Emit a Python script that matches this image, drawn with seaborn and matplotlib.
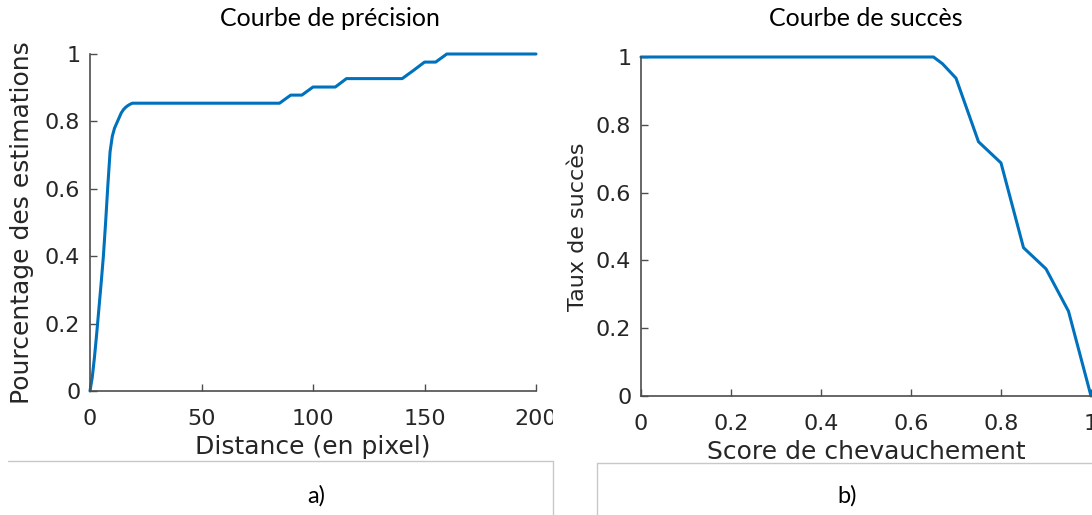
import matplotlib
matplotlib.use("Agg")
import matplotlib.pyplot as plt
from matplotlib.lines import Line2D
from matplotlib.transforms import Bbox, TransformedBbox
import seaborn as sns
import pandas as pd

# Precision curve: fraction of estimates within a given pixel distance
dist_px = [0, 1, 2, 3, 4, 5, 6, 7, 8, 9, 10, 11, 12, 13, 14, 15, 16, 17, 18, 19, 20,
           85, 90, 95, 100, 110, 115, 140, 145, 150, 155, 160, 200]
precision = [0, 0.04, 0.10, 0.17, 0.245, 0.32, 0.40, 0.50, 0.61, 0.71, 0.756, 0.78,
             0.795, 0.81, 0.825, 0.835, 0.842, 0.847, 0.851, 0.854, 0.854,
             0.854, 0.878, 0.878, 0.902, 0.902, 0.927, 0.927, 0.951, 0.976, 0.976,
             1.0, 1.0]

# Success curve: fraction of frames above a given overlap score
overlap = [0, 0.65, 0.67, 0.70, 0.75, 0.80, 0.85, 0.90, 0.95, 1.0]
success = [1.0, 1.0, 0.98, 0.9375, 0.75, 0.6875, 0.4375, 0.375, 0.25, 0.0]

x_ticks_a = [0, 50, 100, 150, 200]
x_ticks_b = [0, 0.2, 0.4, 0.6, 0.8, 1]
y_ticks = [0, 0.2, 0.4, 0.6, 0.8, 1]

titles = ["Courbe de précision", "Courbe de succès"]
xlabels = ["Distance (en pixel)", "Score de chevauchement"]
ylabels = ["Pourcentage des estimations", "Taux de succès"]
captions = ["a)", "b)"]

sns.set_style("white")
plt.rcParams["font.family"] = ["DejaVu Sans"]

W, H = 1092, 515
fig = plt.figure(figsize=(W / 100, H / 100), dpi=100)
fig.patch.set_facecolor("white")

LINE = "#0072BD"
AX = "#262626"
SPINE = "#4d4d4d"
CAP_FONT = ["Lato", "DejaVu Sans"]


def fx(px):
    return px / W


def fy(py):
    return 1 - py / H


def num(v):
    return "0" if v == 0 else ("1" if v == 1 else f"{v:g}")


def style_axes(ax, xlim, xticks):
    ax.set_xlim(*xlim)
    ax.set_ylim(0, 1)
    ax.set_xticks(xticks)
    ax.set_xticklabels([num(v) for v in xticks])
    ax.set_yticks(y_ticks)
    ax.set_yticklabels([num(v) for v in y_ticks])
    for s in ("top", "right"):
        ax.spines[s].set_visible(False)
    for s in ("left", "bottom"):
        ax.spines[s].set_color(SPINE)
        ax.spines[s].set_linewidth(1.2)
    ax.tick_params(bottom=True, left=True, direction="in", length=5, width=1.0,
                   colors=SPINE, labelcolor=AX, labelsize=16)
    ax.tick_params(axis="x", pad=13)
    ax.tick_params(axis="y", pad=7)
    ax.set_facecolor("white")


# Left panel
ax1 = fig.add_axes([fx(90), fy(391), 446 / W, 337 / H])
df_a = pd.DataFrame({"Distance": dist_px, "Precision": precision})
sns.lineplot(data=df_a, x="Distance", y="Precision", ax=ax1, color=LINE,
             linewidth=2.2, estimator=None, sort=False)
style_axes(ax1, (0, 200), x_ticks_a)
ax1.set_xlabel(xlabels[0], fontsize=18, color=AX, va="center")
ax1.xaxis.set_label_coords(0.5, -0.165)
ax1.set_ylabel(ylabels[0], fontsize=18, color=AX, va="center")
ax1.yaxis.set_label_coords(-0.152, 0.5)

# Right panel
ax2 = fig.add_axes([fx(641), fy(396), 450 / W, 339 / H])
df_b = pd.DataFrame({"Score": overlap, "Success": success})
sns.lineplot(data=df_b, x="Score", y="Success", ax=ax2, color=LINE,
             linewidth=2.2, estimator=None, sort=False)
style_axes(ax2, (0, 1), x_ticks_b)
ax2.set_xlabel(xlabels[1], fontsize=18, color=AX, va="center")
ax2.xaxis.set_label_coords(0.5, -0.165)
ax2.set_ylabel(ylabels[1], fontsize=16, color=AX, va="center")
ax2.yaxis.set_label_coords(-0.14, 0.5)

for ax in (ax1, ax2):
    for ln in ax.get_lines():
        ln.set_clip_on(False)
        ln.set_solid_joinstyle("round")

# The left picture ends at the cell border, cutting its last tick label
fig.canvas.draw()
clip = TransformedBbox(Bbox([[0, 0], [fx(553), 1]]), fig.transFigure)
for lab in ax1.get_xticklabels():
    lab.set_clip_on(True)
    lab.set_clip_box(clip)

# Titles above each picture
fig.text(fx(330), fy(19), titles[0], ha="center", va="center", fontsize=18,
         family=CAP_FONT, color="black")
fig.text(fx(866), fy(19), titles[1], ha="center", va="center", fontsize=18,
         family=CAP_FONT, color="black")

# Caption cells below the pictures
BORDER = "#c8c8c8"
fig.add_artist(Line2D([fx(8), fx(553)], [fy(460.5), fy(460.5)], color=BORDER, lw=1))
fig.add_artist(Line2D([fx(553), fx(553)], [fy(460.5), fy(515)], color=BORDER, lw=1))
fig.add_artist(Line2D([fx(597), fx(1092)], [fy(463), fy(463)], color=BORDER, lw=1))
fig.add_artist(Line2D([fx(597), fx(597)], [fy(463), fy(515)], color=BORDER, lw=1))

fig.text(fx(316), fy(496), captions[0], ha="center", va="center", fontsize=17,
         family=CAP_FONT, color="black")
fig.text(fx(847), fy(496), captions[1], ha="center", va="center", fontsize=17,
         family=CAP_FONT, color="black")

fig.savefig("out.png", dpi=100, facecolor="white")
